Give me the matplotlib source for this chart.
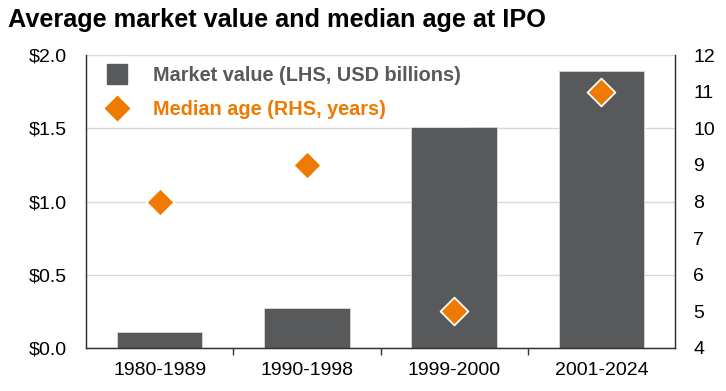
import matplotlib
matplotlib.use("Agg")
import matplotlib.pyplot as plt
from matplotlib.lines import Line2D
import numpy as np

plt.rcParams['font.family'] = ['Liberation Sans', 'DejaVu Sans']

categories = ["1980-1989", "1990-1998", "1999-2000", "2001-2024"]
market_value = [0.11, 0.27, 1.51, 1.89]
median_age = [8, 9, 5, 11]
left_ticks = [0.0, 0.5, 1.0, 1.5, 2.0]
left_labels = ["$0.0", "$0.5", "$1.0", "$1.5", "$2.0"]
right_ticks = list(range(4, 13))

bar_color = "#58595B"
orange = "#EE7A00"

fig = plt.figure(figsize=(7.26, 3.91), dpi=100)
ax = fig.add_axes([86/726, 1-348/391, (675-86)/726, (348-55)/391])
x = np.arange(len(categories))
ax.bar(x, market_value, width=0.58, color=bar_color, edgecolor="#d9d9d9", linewidth=0.6, zorder=2)
ax.set_xlim(-0.5, 3.5)
ax.set_ylim(0, 2.0)
ax.set_yticks(left_ticks)
ax.set_yticklabels(left_labels)
ax.yaxis.grid(True, color="#d9d9d9", linewidth=1.0, zorder=0)
ax.set_axisbelow(True)
ax.set_xticks(x)
ax.set_xticklabels(categories)
ax.set_xticks([0.5, 1.5, 2.5], minor=True)
ax.tick_params(axis='x', which='major', length=0, labelsize=14, pad=10, colors='#000000')
ax.tick_params(axis='x', which='minor', length=5, width=1, color='#333333')
ax.tick_params(axis='y', length=0, labelsize=14, pad=14)
ax.spines['top'].set_visible(False)
for s in ['left', 'bottom', 'right']:
    ax.spines[s].set_color('#333333')
    ax.spines[s].set_linewidth(1.0)

ax2 = ax.twinx()
ax2.scatter(x, median_age, marker='D', s=200, color=orange, edgecolors='white', linewidths=1.3, zorder=5)
ax2.set_ylim(4, 12)
ax2.set_yticks(right_ticks)
ax2.tick_params(axis='y', length=0, labelsize=14, pad=13)
ax2.spines['top'].set_visible(False)
for s in ['left', 'bottom', 'right']:
    ax2.spines[s].set_color('#333333')

handles = [Line2D([], [], marker='s', color=bar_color, linestyle='None', markersize=15),
           Line2D([], [], marker='D', color=orange, markeredgecolor='white', linestyle='None', markersize=14)]
leg = ax2.legend(handles, ["Market value (LHS, USD billions)", "Median age (RHS, years)"],
                 loc='upper left', bbox_to_anchor=(0.0, 1.0), frameon=True, framealpha=1,
                 edgecolor='white', facecolor='white', fancybox=False,
                 prop={'weight': 'bold', 'size': 14.3}, handletextpad=0.8, borderpad=0.35,
                 labelspacing=0.75, borderaxespad=0.2)
leg.get_texts()[0].set_color(bar_color)
leg.get_texts()[1].set_color(orange)
leg.set_zorder(10)

fig.text(8/726, 1-20/391, "Average market value and median age at IPO", fontsize=18.2,
         fontweight='bold', va='center', ha='left', color='#000000')

fig.savefig("out.png", dpi=100)
